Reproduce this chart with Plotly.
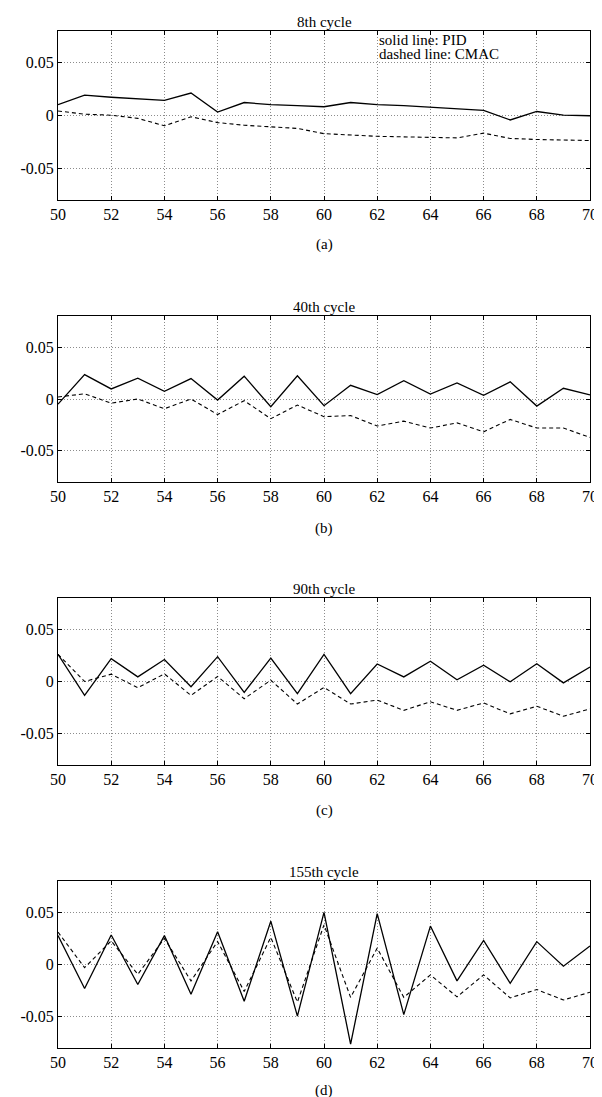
import plotly.graph_objects as go

# ---------------- data ----------------
x_steps = list(range(50, 71))

pid_8 = [0.010, 0.019, 0.017, 0.0155, 0.014, 0.021, 0.003, 0.012, 0.010, 0.009, 0.008,
         0.012, 0.010, 0.009, 0.0075, 0.006, 0.0045, -0.0045, 0.0035, 0.000, -0.0005]
cmac_8 = [0.004, 0.001, 0.000, -0.003, -0.010, -0.0015, -0.007, -0.0095, -0.011, -0.0125, -0.0175,
          -0.019, -0.020, -0.0205, -0.021, -0.0215, -0.017, -0.022, -0.023, -0.0235, -0.024]

pid_40 = [-0.005, 0.0235, 0.0097, 0.020, 0.0074, 0.0197, -0.001, 0.022, -0.0074, 0.0223, -0.0065,
          0.0132, 0.0042, 0.0177, 0.0048, 0.0155, 0.0035, 0.0165, -0.0068, 0.0103, 0.004]
cmac_40 = [0.002, 0.005, -0.004, 0.000, -0.0094, 0.000, -0.015, -0.0016, -0.019, -0.0058, -0.017,
           -0.016, -0.026, -0.0213, -0.028, -0.023, -0.0316, -0.0197, -0.028, -0.028, -0.037]

pid_90 = [0.026, -0.0133, 0.0219, 0.0044, 0.021, -0.005, 0.0238, -0.0105, 0.0225, -0.0117, 0.026,
          -0.0117, 0.0168, 0.0044, 0.0194, 0.0016, 0.0156, -0.0003, 0.017, -0.0013, 0.0138]
cmac_90 = [0.026, 0.000, 0.007, -0.006, 0.0073, -0.0133, 0.0048, -0.0165, 0.0013, -0.0216, -0.0057,
           -0.0216, -0.0178, -0.0276, -0.0194, -0.0276, -0.0206, -0.031, -0.0237, -0.0333, -0.0263]

pid_155 = [0.0277, -0.023, 0.0283, -0.0192, 0.0277, -0.0286, 0.0314, -0.0352, 0.0415, -0.0494, 0.050,
           -0.0764, 0.0487, -0.048, 0.0368, -0.0157, 0.023, -0.018, 0.0219, -0.0016, 0.0178]
cmac_155 = [0.031, -0.003, 0.0226, -0.0094, 0.025, -0.0157, 0.022, -0.0258, 0.026, -0.036, 0.038,
            -0.0315, 0.0157, -0.0315, -0.010, -0.031, -0.010, -0.032, -0.024, -0.034, -0.0266]

panel_titles = ["8th cycle", "40th cycle", "90th cycle", "155th cycle"]
panel_captions = ["(a)", "(b)", "(c)", "(d)"]
legend_lines = ["solid line: PID", "dashed line: CMAC"]

x_tick_vals = list(range(50, 71, 2))
y_tick_vals = [-0.05, 0, 0.05]
y_tick_text = ["-0.05", "0", "0.05"]

pid_series = [pid_8, pid_40, pid_90, pid_155]
cmac_series = [cmac_8, cmac_40, cmac_90, cmac_155]

# ---------------- layout geometry ----------------
W, H = 602, 1097
M_T, M_B, M_L, M_R = 22, 57, 46, 16
area_h = H - M_T - M_B


def py(p):
    return (H - M_B - p) / area_h


panel_px = [(22.7, 191.7), (308, 474), (590, 757), (873, 1040)]
caption_px = [236, 520, 802, 1082]

FONT = "Liberation Serif, Times New Roman, serif"
GRID = "#8c8c8c"

fig = go.Figure()
annotations = []

for i in range(4):
    n = i + 1
    xa = "x" if n == 1 else f"x{n}"
    ya = "y" if n == 1 else f"y{n}"
    fig.add_trace(go.Scatter(x=x_steps, y=cmac_series[i], xaxis=xa, yaxis=ya, mode="lines",
                             line=dict(color="black", width=1.1, dash="4px,3px"),
                             showlegend=False, hoverinfo="skip"))
    fig.add_trace(go.Scatter(x=x_steps, y=pid_series[i], xaxis=xa, yaxis=ya, mode="lines",
                             line=dict(color="black", width=1.3),
                             showlegend=False, hoverinfo="skip"))
    top_px, bot_px = panel_px[i]
    dom = [max(0, py(bot_px)), min(1, py(top_px))]
    xkey = "xaxis" if n == 1 else f"xaxis{n}"
    ykey = "yaxis" if n == 1 else f"yaxis{n}"
    fig.update_layout(**{
        xkey: dict(domain=[0, 1], anchor=ya, range=[50, 70], tickvals=x_tick_vals,
                   showgrid=True, gridcolor=GRID, griddash="1px,2px", gridwidth=1,
                   zeroline=False, showline=True, linecolor="black", linewidth=1,
                   mirror="ticks", ticks="inside", ticklen=4, tickcolor="black",
                   tickfont=dict(family=FONT, size=16, color="black")),
        ykey: dict(domain=dom, anchor=xa, range=[-0.08, 0.08], tickvals=y_tick_vals,
                   ticktext=y_tick_text,
                   showgrid=True, gridcolor=GRID, griddash="1px,2px", gridwidth=1,
                   zeroline=False, showline=True, linecolor="black", linewidth=1,
                   mirror="ticks", ticks="inside", ticklen=4, tickcolor="black",
                   tickfont=dict(family=FONT, size=16, color="black")),
    })
    annotations.append(dict(text=panel_titles[i], x=0.5, xref="paper", y=dom[1], yref="paper",
                            xanchor="center", yanchor="bottom", showarrow=False, yshift=-1,
                            font=dict(family=FONT, size=15, color="black")))
    annotations.append(dict(text=panel_captions[i], x=0.5, xref="paper", y=py(caption_px[i]),
                            yref="paper", xanchor="center", yanchor="middle", showarrow=False,
                            font=dict(family=FONT, size=15, color="black")))

annotations.append(dict(text=legend_lines[0], x=62, xref="x", y=0.071, yref="y",
                        xanchor="left", yanchor="middle", showarrow=False,
                        font=dict(family=FONT, size=15, color="black")))
annotations.append(dict(text=legend_lines[1], x=62, xref="x", y=0.058, yref="y",
                        xanchor="left", yanchor="middle", showarrow=False,
                        font=dict(family=FONT, size=15, color="black")))

fig.update_layout(width=W, height=H, margin=dict(l=M_L, r=M_R, t=M_T, b=M_B),
                  paper_bgcolor="white", plot_bgcolor="white",
                  annotations=annotations, showlegend=False)

fig.write_html("out.html")
